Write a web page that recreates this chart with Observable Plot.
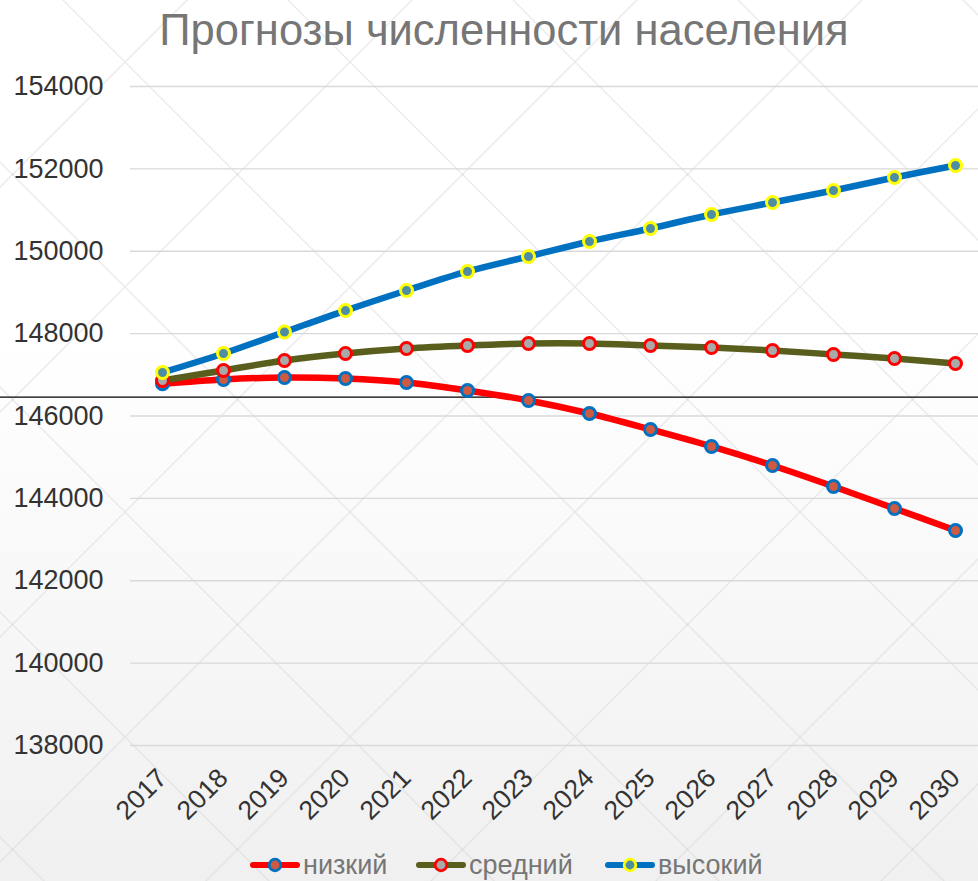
<!DOCTYPE html>
<html>
<head>
<meta charset="utf-8">
<script src="https://cdn.jsdelivr.net/npm/d3@7"></script>
<script src="https://cdn.jsdelivr.net/npm/@observablehq/plot@0.6"></script>
<style>
  html, body { margin: 0; padding: 0; }
  body { width: 978px; height: 881px; overflow: hidden; font-family: "Liberation Sans", Arial, sans-serif; }
  #wrap { position: relative; width: 978px; height: 881px; overflow: hidden; }
  #bg { position: absolute; left: 0; top: 0; }
  #chart { position: absolute; left: 0; top: 0; }
  #title { position: absolute; left: 0; top: 9px; width: 1008px; text-align: center; font-size: 43.5px; line-height: 43px; color: #767676; white-space: nowrap; }
  .leg { position: absolute; top: 850px; display: flex; align-items: center; font-size: 27px; line-height: 30px; color: #767676; white-space: nowrap; }
  .leg svg { display: block; margin-right: 3px; }
</style>
</head>
<body>
<div id="wrap">
  <svg id="bg" width="978" height="881">
    <defs>
      <linearGradient id="g" x1="0" y1="0" x2="0" y2="1">
        <stop offset="0" stop-color="#ffffff"/>
        <stop offset="0.38" stop-color="#ffffff"/>
        <stop offset="1" stop-color="#f0f0f0"/>
      </linearGradient>
      <pattern id="lat" patternUnits="userSpaceOnUse" width="225" height="225" x="12.5" y="-50.5">
        <line x1="0" y1="0" x2="225" y2="225" stroke="#d6d6d6" stroke-width="1"/>
        <line x1="225" y1="0" x2="0" y2="225" stroke="#d6d6d6" stroke-width="1"/>
      </pattern>
    </defs>
    <rect width="978" height="881" fill="url(#g)"/>
    <rect width="978" height="881" fill="url(#lat)"/>
  </svg>
  <div id="chart"></div>
  <div id="title">Прогнозы численности населения</div>
  <div id="legend"></div>
</div>
<script>
const years = ["2017","2018","2019","2020","2021","2022","2023","2024","2025","2026","2027","2028","2029","2030"];
const low  = [146782, 146887, 146935, 146910, 146814, 146620, 146377, 146061, 145673, 145260, 144799, 144289, 143755, 143221];
const mid  = [146862, 147105, 147348, 147518, 147639, 147712, 147761, 147761, 147712, 147663, 147591, 147494, 147396, 147275];
const high = [147057, 147518, 148040, 148560, 149047, 149509, 149873, 150237, 150553, 150892, 151184, 151475, 151791, 152082];
const seriesNames = ["низкий", "средний", "высокий"];
const yTicks = [138000, 140000, 142000, 144000, 146000, 148000, 150000, 152000, 154000];
const refLine = [146460];

const seriesStyle = {
  "низкий":  {line: "#ff0000", fill: "#cf5a42", stroke: "#0070c0"},
  "средний": {line: "#5a5e1c", fill: "#a9a9a9", stroke: "#ff0000"},
  "высокий": {line: "#0070c0", fill: "#4f8ea2", stroke: "#ffff00"}
};
const seriesValues = {"низкий": low, "средний": mid, "высокий": high};

const marks = [
  Plot.ruleY(yTicks, {stroke: "#d9d9d9", strokeWidth: 1.3}),
  Plot.ruleY(refLine, {stroke: "#000000", strokeWidth: 1.2, insetLeft: -130})
];
for (const name of seriesNames) {
  const rows = years.map((yr, i) => ({year: yr, value: seriesValues[name][i], series: name}));
  const st = seriesStyle[name];
  marks.push(Plot.line(rows, {x: "year", y: "value", stroke: st.line, strokeWidth: 6.5, curve: "catmull-rom", strokeLinecap: "round"}));
  marks.push(Plot.dot(rows, {x: "year", y: "value", r: 6, fill: st.fill, stroke: st.stroke, strokeWidth: 3}));
}
marks.push(Plot.axisY({ticks: yTicks, tickSize: 0, tickPadding: 27, tickFormat: d => String(d), fontSize: 27}));
marks.push(Plot.axisX({tickRotate: -45, tickSize: 0, tickPadding: 28, fontSize: 26.5}));

const chart = Plot.plot({
  width: 978,
  height: 881,
  marginLeft: 130,
  marginRight: 0,
  marginTop: 86,
  marginBottom: 136,
  x: {type: "point", domain: years, range: [160, 956], padding: 0, label: null},
  y: {domain: [138000, 154000], label: null},
  style: {background: "transparent", color: "#333333", fontFamily: "Liberation Sans, Arial, sans-serif", overflow: "visible"},
  marks
});
document.getElementById("chart").appendChild(chart);

const legendLeft = {"низкий": 250, "средний": 416, "высокий": 605};
const legend = document.getElementById("legend");
for (const name of seriesNames) {
  const st = seriesStyle[name];
  const item = document.createElement("div");
  item.className = "leg";
  item.style.left = legendLeft[name] + "px";
  item.innerHTML = `<svg width="50" height="20"><line x1="3" y1="10" x2="47" y2="10" stroke="${st.line}" stroke-width="6" stroke-linecap="round"/><circle cx="25" cy="10" r="5.8" fill="${st.fill}" stroke="${st.stroke}" stroke-width="2.8"/></svg><span>${name}</span>`;
  legend.appendChild(item);
}
</script>
</body>
</html>
